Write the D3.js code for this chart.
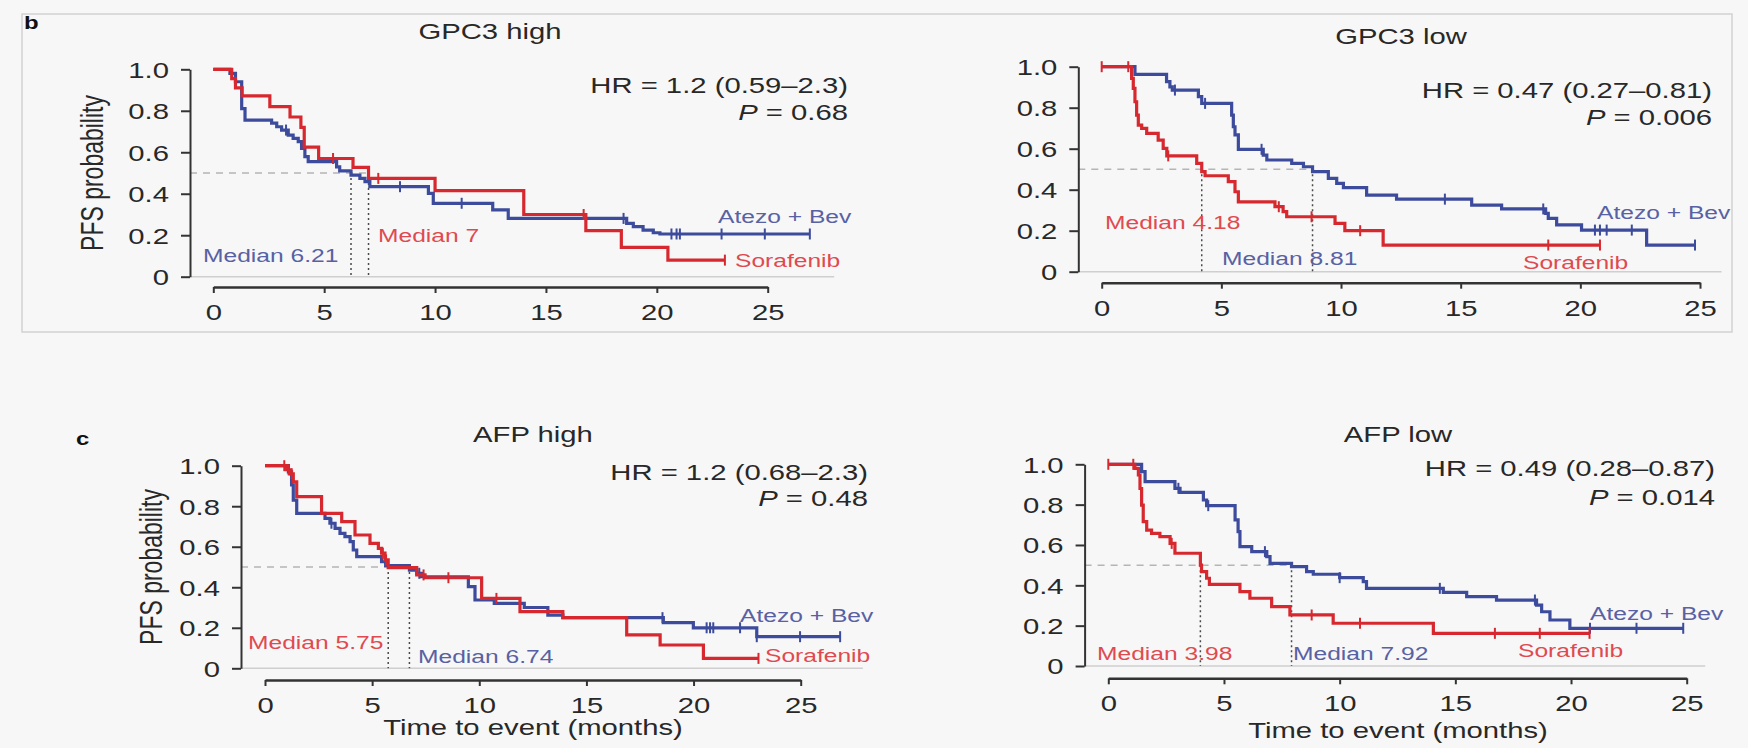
<!DOCTYPE html>
<html>
<head>
<meta charset="utf-8">
<script src="https://cdn.jsdelivr.net/npm/d3@7"></script>
<style>
  body { margin: 0; background: #f7f7f7; }
  svg { display: block; font-family: "Liberation Sans", Arial, sans-serif; }
</style>
</head>
<body>
<svg id="km" width="1748" height="748"></svg>
<script>
// text in the source figure is stretched sideways, so every label gets this x-scale
const SX = 1.33
const INK = "#282828"
const BLUE = "#3c4b9c", RED = "#d6282e"
const BLUE_TXT = "#5861a3", RED_TXT = "#df4a50"

const panelTitles = ["GPC3 high", "GPC3 low", "AFP high", "AFP low"]
const hrTexts = ["HR = 1.2 (0.59–2.3)", "HR = 0.47 (0.27–0.81)", "HR = 1.2 (0.68–2.3)", "HR = 0.49 (0.28–0.87)"]
const pValues = ["0.68", "0.006", "0.48", "0.014"]
const atezoMedians = [6.21, 8.81, 6.74, 7.92]
const soraMedians = [7, 4.18, 5.75, 3.98]
const xTicks = [0, 5, 10, 15, 20, 25]
const yTicks = [0, 0.2, 0.4, 0.6, 0.8, 1.0]
const yTickLabels = ["0", "0.2", "0.4", "0.6", "0.8", "1.0"]

// [time, PFS probability from that time on]; censor marks are times, the last one ends the curve
const gpc3HighAtezo = [[0,1],[0.75,0.98],[1.0,0.94],[1.28,0.81],[1.43,0.755],[2.63,0.74],[2.86,0.723],[3.08,0.707],[3.38,0.683],[3.6,0.667],[3.83,0.651],[3.98,0.619],[4.13,0.579],[4.28,0.555],[5.56,0.53],[5.7,0.51],[6.21,0.49],[6.61,0.474],[6.84,0.458],[7.06,0.434],[9.7,0.402],[9.92,0.354],[12.6,0.322],[13.3,0.281],[18.64,0.257],[18.94,0.241],[19.38,0.225],[19.84,0.212],[20.14,0.206]]
const gpc3HighAtezoCensor = [3.28, 8.42, 11.2, 18.5, 20.66, 20.89, 21.04, 22.92, 24.87, 26.9]
const gpc3HighSora = [[0,1],[0.83,0.955],[1.0,0.91],[1.3,0.872],[2.55,0.82],[3.46,0.77],[3.95,0.72],[4.1,0.625],[4.75,0.57],[6.3,0.527],[7.0,0.474],[10.0,0.415],[14.0,0.30],[16.8,0.222],[18.4,0.141],[20.5,0.08]]
const gpc3HighSoraCensor = [5.4, 7.44, 16.7, 23.07]

const gpc3LowAtezo = [[0,1],[1.39,0.963],[2.71,0.927],[2.85,0.902],[2.95,0.886],[4.04,0.854],[4.18,0.821],[5.43,0.764],[5.5,0.707],[5.57,0.667],[5.71,0.597],[6.75,0.569],[6.9,0.545],[7.94,0.528],[8.43,0.512],[8.81,0.488],[9.47,0.455],[9.82,0.431],[10.1,0.41],[11.07,0.374],[12.32,0.354],[15.46,0.325],[16.71,0.306],[18.55,0.285],[18.66,0.26],[19.01,0.228],[20.05,0.203],[22.77,0.13]]
const gpc3LowAtezoCensor = [3.06, 4.32, 6.68, 14.34, 18.45, 20.61, 20.82, 21.1, 22.15, 24.79]
const gpc3LowSora = [[0,1],[1.25,0.943],[1.32,0.894],[1.39,0.829],[1.46,0.764],[1.53,0.715],[1.67,0.699],[1.88,0.675],[2.36,0.642],[2.57,0.602],[2.72,0.565],[3.97,0.528],[4.18,0.488],[4.32,0.468],[5.29,0.439],[5.57,0.39],[5.71,0.341],[7.24,0.317],[7.58,0.293],[7.73,0.268],[9.75,0.236],[10.16,0.2],[11.76,0.13]]
const gpc3LowSoraCensor = [0, 1.11, 2.78, 7.4, 8.77, 10.8, 18.66, 20.82]

const afpHighAtezo = [[0,1],[1.09,0.97],[1.24,0.905],[1.32,0.83],[1.48,0.765],[2.8,0.74],[3.03,0.716],[3.27,0.691],[3.5,0.666],[3.73,0.65],[3.97,0.625],[4.12,0.584],[4.28,0.551],[5.44,0.526],[5.63,0.507],[6.74,0.485],[7.08,0.469],[7.3,0.452],[9.49,0.403],[9.8,0.337],[10.7,0.32],[12.1,0.3],[13.2,0.262],[13.9,0.25],[18.59,0.225],[19.99,0.2],[22.95,0.156]]
const afpHighAtezoCensor = [3.1, 7.2, 18.55, 20.61, 20.77, 20.92, 22.17, 22.95, 24.97, 26.84]
const afpHighSora = [[0,1],[1.01,0.98],[1.17,0.96],[1.32,0.92],[1.48,0.847],[2.64,0.765],[3.58,0.724],[4.2,0.658],[4.9,0.617],[5.29,0.592],[5.44,0.568],[5.6,0.535],[5.75,0.497],[7.08,0.461],[7.47,0.447],[10.11,0.345],[11.9,0.28],[13.9,0.25],[16.88,0.165],[18.44,0.115],[20.46,0.049]]
const afpHighSoraCensor = [0.9, 1.1, 1.25, 5.5, 5.65, 7.4, 8.56, 10.8, 23.03]

const afpLowAtezo = [[0,1],[1.44,0.964],[1.59,0.914],[2.88,0.881],[3.1,0.861],[4.11,0.823],[4.25,0.795],[5.48,0.724],[5.61,0.666],[5.69,0.592],[6.2,0.567],[6.85,0.542],[6.99,0.509],[7.92,0.493],[8.57,0.468],[8.86,0.455],[10.0,0.438],[11.02,0.418],[11.16,0.385],[14.48,0.365],[15.49,0.344],[16.78,0.327],[18.51,0.302],[18.73,0.269],[19.09,0.228],[19.95,0.187]]
const afpLowAtezoCensor = [3.03, 4.32, 6.77, 10.0, 14.33, 18.44, 20.82, 22.83, 24.85]
const afpLowSora = [[0,1],[1.15,0.98],[1.3,0.947],[1.37,0.88],[1.44,0.798],[1.51,0.716],[1.66,0.674],[1.87,0.658],[2.23,0.641],[2.67,0.608],[2.88,0.559],[3.98,0.5],[4.03,0.468],[4.25,0.435],[4.37,0.405],[5.69,0.369],[6.12,0.336],[7.06,0.294],[7.85,0.253],[9.72,0.212],[14.05,0.162]]
const afpLowSoraCensor = [0, 1.08, 2.74, 8.79, 10.88, 16.71, 18.65, 20.8]

// pixel frame of each panel (axes ends, label anchors)
const layout = [
  {x0: 213.3, x25: 767.7, y0: 276.7, y1: 69.3, axisX: 190, axisY: 287, baseEnd: 28,
   title: [490, 39], hr: [848, 93, 120], pfs: [103, 173], tag: ["b", 24, 29],
   atezoLbl: [718, 223], soraLbl: [735, 266.5], medAtezoLbl: [203, 261.5], medSoraLbl: [378, 241.5]},
  {x0: 1101.7, x25: 1700, y0: 271.7, y1: 66.7, axisX: 1078.3, axisY: 282.7, baseEnd: 25.9,
   title: [1401, 44], hr: [1712, 98, 125],
   atezoLbl: [1597, 218.5], soraLbl: [1523, 268.5], medAtezoLbl: [1222, 264.5], medSoraLbl: [1105, 228.5]},
  {x0: 265, x25: 800.7, y0: 668.3, y1: 465.7, axisX: 241, axisY: 680, baseEnd: 27.9,
   title: [533, 442], hr: [868, 480, 506], pfs: [162, 567], tag: ["c", 76, 445], xlab: [533, 735],
   atezoLbl: [740, 621.5], soraLbl: [765, 661.5], medAtezoLbl: [418, 662.5], medSoraLbl: [248, 648.5]},
  {x0: 1108.3, x25: 1686.7, y0: 666, y1: 464.3, axisX: 1084.6, axisY: 678.3, baseEnd: 25.8,
   title: [1398, 442], hr: [1715, 476, 505], xlab: [1398, 738],
   atezoLbl: [1590, 619.5], soraLbl: [1518, 656.5], medAtezoLbl: [1293, 659.5], medSoraLbl: [1097, 659.5]}
]

const curves = [
  [{steps: gpc3HighAtezo, censor: gpc3HighAtezoCensor}, {steps: gpc3HighSora, censor: gpc3HighSoraCensor}],
  [{steps: gpc3LowAtezo, censor: gpc3LowAtezoCensor}, {steps: gpc3LowSora, censor: gpc3LowSoraCensor}],
  [{steps: afpHighAtezo, censor: afpHighAtezoCensor}, {steps: afpHighSora, censor: afpHighSoraCensor}],
  [{steps: afpLowAtezo, censor: afpLowAtezoCensor}, {steps: afpLowSora, censor: afpLowSoraCensor}]
]

const svg = d3.select("#km")

svg.append("rect")
  .attr("x", 22).attr("y", 14).attr("width", 1710).attr("height", 318)
  .attr("fill", "none").attr("stroke", "#d2d2d2").attr("stroke-width", 1.5)

function txt(g, x, y, s, o = {}) {
  return g.append("text")
    .attr("transform", `translate(${x},${y}) scale(${SX},1)` + (o.rotate ? ` rotate(${o.rotate})` : ""))
    .attr("text-anchor", o.anchor || "start")
    .attr("font-size", o.size || 22)
    .attr("font-weight", o.weight || null)
    .attr("fill", o.fill || INK)
    .text(s)
}

function levelAt(steps, t) {
  let s = steps[0][1]
  steps.forEach(d => { if (d[0] <= t) s = d[1] })
  return s
}

layout.forEach((p, i) => {
  const g = svg.append("g")
  const x = d3.scaleLinear([0, 25], [p.x0, p.x25])
  const y = d3.scaleLinear([0, 1], [p.y0, p.y1])

  // light baseline at 0 and the median guides
  g.append("line")
    .attr("x1", p.axisX).attr("x2", x(p.baseEnd)).attr("y1", y(0)).attr("y2", y(0))
    .attr("stroke", "#cfcfcf").attr("stroke-width", 1.5)

  const meds = [atezoMedians[i], soraMedians[i]]
  g.append("line")
    .attr("x1", p.axisX).attr("x2", x(d3.max(meds))).attr("y1", y(0.5)).attr("y2", y(0.5))
    .attr("stroke", "#b5b5b5").attr("stroke-width", 1.5).attr("stroke-dasharray", "7,6")

  g.selectAll(".med").data(meds).enter()
    .append("line")
    .attr("class", "med")
    .attr("x1", d => x(d)).attr("x2", d => x(d))
    .attr("y1", y(0.5)).attr("y2", y(0))
    .attr("stroke", "#4a4a4a").attr("stroke-width", 1.5).attr("stroke-dasharray", "2,3")

  // curves: Atezo + Bev first, sorafenib on top
  const line = d3.line().x(d => x(d[0])).y(d => y(d[1])).curve(d3.curveStepAfter)
  curves[i].forEach((c, k) => {
    const color = k === 0 ? BLUE : RED
    const end = d3.max(c.censor)
    const pts = c.steps.concat([[end, c.steps[c.steps.length - 1][1]]])

    g.append("path")
      .attr("d", line(pts))
      .attr("fill", "none").attr("stroke", color).attr("stroke-width", 3.2)

    g.selectAll(".cens" + k).data(c.censor).enter()
      .append("line")
      .attr("class", "cens" + k)
      .attr("x1", d => x(d)).attr("x2", d => x(d))
      .attr("y1", d => y(levelAt(c.steps, d)) - 5.5)
      .attr("y2", d => y(levelAt(c.steps, d)) + 5.5)
      .attr("stroke", color).attr("stroke-width", 2)
  })

  // axes
  g.append("g")
    .attr("transform", `translate(${p.axisX},0)`)
    .call(d3.axisLeft(y).tickValues(yTicks).tickFormat((d, j) => yTickLabels[j]).tickSize(9).tickSizeOuter(0))
    .call(a => a.select(".domain").attr("stroke", "#333").attr("stroke-width", 2))
    .call(a => a.selectAll(".tick line").attr("stroke", "#333").attr("stroke-width", 2))
    .call(a => a.selectAll(".tick text")
      .attr("x", -21 / SX).attr("dy", "0.36em")
      .attr("transform", `scale(${SX},1)`)
      .attr("font-size", 22).attr("font-family", null).attr("fill", INK))

  g.append("g")
    .attr("transform", `translate(0,${p.axisY})`)
    .call(d3.axisBottom(x).tickValues(xTicks).tickSize(6).tickSizeOuter(0))
    .call(a => a.select(".domain").attr("stroke", "#333").attr("stroke-width", 2.5))
    .call(a => a.selectAll(".tick line").attr("stroke", "#333").attr("stroke-width", 2))
    .call(a => a.selectAll(".tick text")
      .attr("y", 33).attr("dy", null)
      .attr("transform", `scale(${SX},1)`)
      .attr("font-size", 22).attr("font-family", null).attr("fill", INK))

  // texts
  txt(g, p.title[0], p.title[1], panelTitles[i], {anchor: "middle"})
  txt(g, p.hr[0], p.hr[1], hrTexts[i], {anchor: "end"})
  const pt = txt(g, p.hr[0], p.hr[2], "", {anchor: "end"})
  pt.append("tspan").attr("font-style", "italic").text("P")
  pt.append("tspan").text(" = " + pValues[i])

  if (p.pfs) txt(g, p.pfs[0], p.pfs[1], "PFS probability", {anchor: "middle", rotate: -90, size: 23})
  if (p.xlab) txt(g, p.xlab[0], p.xlab[1], "Time to event (months)", {anchor: "middle"})
  if (p.tag) txt(g, p.tag[1], p.tag[2], p.tag[0], {weight: "bold", size: 18, fill: "#111"})

  txt(g, p.atezoLbl[0], p.atezoLbl[1], "Atezo + Bev", {size: 18.5, fill: BLUE_TXT})
  txt(g, p.soraLbl[0], p.soraLbl[1], "Sorafenib", {size: 18.5, fill: RED_TXT})
  txt(g, p.medAtezoLbl[0], p.medAtezoLbl[1], "Median " + atezoMedians[i], {size: 18.5, fill: BLUE_TXT})
  txt(g, p.medSoraLbl[0], p.medSoraLbl[1], "Median " + soraMedians[i], {size: 18.5, fill: RED_TXT})
})
</script>
</body>
</html>
